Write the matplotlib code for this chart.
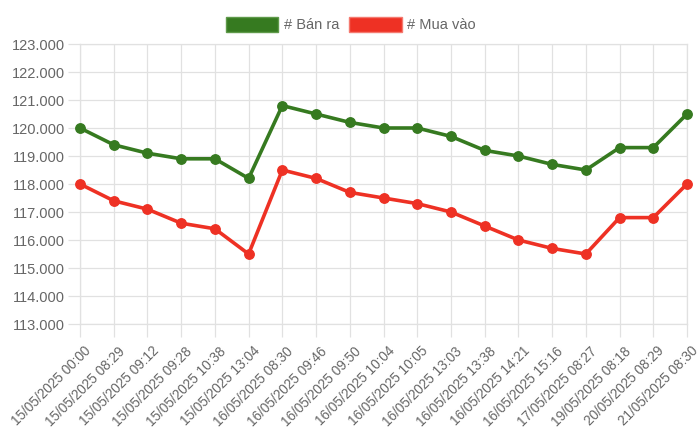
import matplotlib
matplotlib.use('Agg')
import matplotlib.pyplot as plt
import matplotlib.transforms as mtransforms
from matplotlib.patches import Patch

plt.rcParams['font.family'] = ['Liberation Sans', 'DejaVu Sans']

labels = [
    '15/05/2025 00:00', '15/05/2025 08:29', '15/05/2025 09:12', '15/05/2025 09:28',
    '15/05/2025 10:38', '15/05/2025 13:04', '16/05/2025 08:30', '16/05/2025 09:46',
    '16/05/2025 09:50', '16/05/2025 10:04', '16/05/2025 10:05', '16/05/2025 13:03',
    '16/05/2025 13:38', '16/05/2025 14:21', '16/05/2025 15:16', '17/05/2025 08:27',
    '19/05/2025 08:18', '20/05/2025 08:29', '21/05/2025 08:30',
]
ban_ra = [120.0, 119.4, 119.1, 118.9, 118.9, 118.2, 120.8, 120.5, 120.2, 120.0,
          120.0, 119.7, 119.2, 119.0, 118.7, 118.5, 119.3, 119.3, 120.5]
mua_vao = [118.0, 117.4, 117.1, 116.6, 116.4, 115.5, 118.5, 118.2, 117.7, 117.5,
           117.3, 117.0, 116.5, 116.0, 115.7, 115.5, 116.8, 116.8, 118.0]
y_ticks = list(range(113, 124))

GREEN = '#367a20'
RED = '#ee3124'
GRID = '#e1e1e1'
TEXT = '#666666'
FS = 10.5

fig = plt.figure(figsize=(7, 4.48), dpi=100)
ax = fig.add_axes([80 / 700, 1 - 324 / 448, 607 / 700, 280 / 448])

x = list(range(len(labels)))
ax.plot(x, ban_ra, color=GREEN, lw=2.6, marker='o', ms=6.8, zorder=3, clip_on=False)
ax.plot(x, mua_vao, color=RED, lw=2.6, marker='o', ms=6.8, zorder=3, clip_on=False)

ax.set_xlim(0, len(labels) - 1)
ax.set_ylim(113, 123)
ax.set_yticks(y_ticks)
ax.set_yticklabels([f'{v}.000' for v in y_ticks])
ax.set_xticks(x)
ax.set_xticklabels(labels, rotation=45, ha='right', rotation_mode='anchor',
                   fontsize=9.8)

ax.grid(True, color=GRID, lw=0.9)
ax.tick_params(axis='both', colors=GRID, labelcolor=TEXT, length=9, width=0.9)
ax.tick_params(axis='y', pad=2, labelsize=FS)
ax.tick_params(axis='x', pad=4)
for s in ax.spines.values():
    s.set_color(GRID)
    s.set_linewidth(0.9)

# chart.js puts rotated labels a touch to the right of the tick
shift = mtransforms.ScaledTranslation(4 / 100, -2 / 100, fig.dpi_scale_trans)
for lbl in ax.get_xticklabels():
    lbl.set_transform(lbl.get_transform() + shift)

handles = [Patch(facecolor=GREEN, edgecolor='#5f9a4a', label='# Bán ra'),
           Patch(facecolor=RED, edgecolor='#f47a70', label='# Mua vào')]
fig.legend(handles=handles, loc='center', bbox_to_anchor=(0.501, 1 - 24.5 / 448),
           ncol=2, frameon=False, fontsize=FS, handlelength=3.6,
           handleheight=1.25, handletextpad=0.35, columnspacing=0.7,
           labelcolor=TEXT, borderpad=0)

fig.savefig('out.png', dpi=100)
